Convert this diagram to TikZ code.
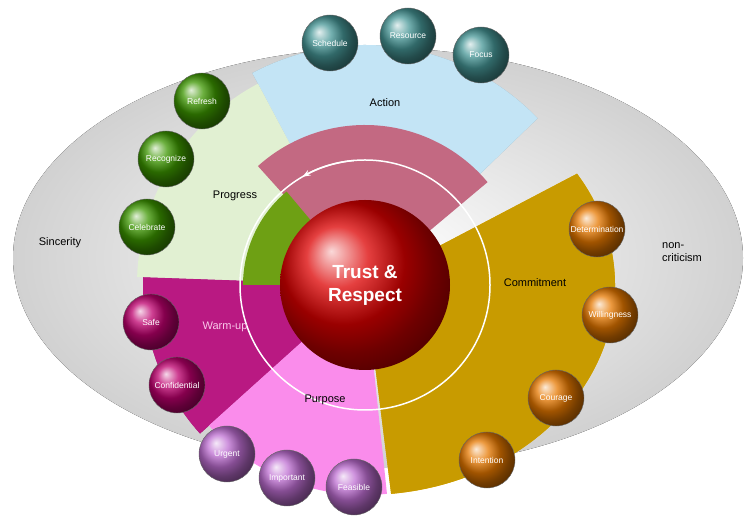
\documentclass[tikz,border=0pt]{standalone}
\usepackage{fontspec}
\setmainfont{Liberation Sans}
\usetikzlibrary{arrows.meta}
\definecolor{cteal}{RGB}{70,150,150}
\definecolor{cgreen}{RGB}{60,150,0}
\definecolor{corange}{RGB}{230,120,0}
\definecolor{cmag}{RGB}{190,0,110}
\definecolor{clil}{RGB}{190,110,210}
\definecolor{cred}{RGB}{220,0,0}
\begin{document}
\begin{tikzpicture}[x=1pt,y=1pt,
 ball/.style={circle,minimum size=56pt,inner sep=0pt,shading=ball,ball color=#1,draw=black!60,font=\fontsize{8.5}{10}\selectfont,text=white},
 lab/.style={font=\fontsize{11}{13}\selectfont,text=black}]
\useasboundingbox (0,0) rectangle (744,518);
\coordinate (C) at (365,233);
\newcommand{\sect}[5][]{\fill[#1] ([shift={(#3:#5)}]C) arc (#3:#4:#5) -- (C) -- cycle;}
\newcommand{\esect}[6][]{\fill[#1] ([shift={(#3:#5 and #6)}]C) arc (#3:#4:#5 and #6) -- (C) -- cycle;}
% background ellipse
\fill[inner color=white,outer color=black!18] (378,260) ellipse (365 and 210);
% rims
\begin{scope}[shift={(8,-8)}]\sect[fill={rgb,255:red,150;green,175;blue,185}]{C}{44}{118}{240}\end{scope}
\begin{scope}[shift={(14,6)}]\esect[fill={rgb,255:red,225;green,170;blue,0}]{C}{-84}{32}{250}{210}\end{scope}
\begin{scope}[shift={(-6,8)}]\sect[fill={rgb,255:red,150;green,20;blue,110}]{C}{178}{222}{222}\end{scope}
% sectors
\sect[fill={rgb,255:red,195;green,228;blue,245}]{C}{44}{118}{240}
\sect[fill={rgb,255:red,225;green,240;blue,210}]{C}{118}{178}{228}
\sect[fill={rgb,255:red,185;green,25;blue,130}]{C}{178}{222}{222}
\sect[fill={rgb,255:red,250;green,140;blue,235}]{C}{222}{276}{210}
\esect[fill={rgb,255:red,200;green,155;blue,0}]{C}{-84}{32}{250}{210}
\sect[fill={rgb,255:red,195;green,105;blue,130}]{C}{40}{132}{160}
\sect[fill={rgb,255:red,110;green,160;blue,20}]{C}{130}{180}{122}
% ring
\draw[white,line width=1.5pt] (C) circle (125);
\draw[white,line width=1.5pt,-{Stealth[length=8pt]}] ([shift={(95:125)}]C) arc (95:120:125);
% center
\node[circle,minimum size=170pt,inner sep=0pt,shading=ball,ball color=cred,font=\bfseries\fontsize{19}{23}\selectfont,text=white,align=center] (core) at (C) {Trust \&\\Respect};
% labels
\node[lab] (act) at (385,415) {Action};
\node[lab] (prog) at (235,322) {Progress};
\node[lab] (com) at (535,235) {Commitment};
\node[lab,text={rgb,255:red,250;green,200;blue,235}] (warm) at (225,191) {Warm-up};
\node[lab] (pur) at (325,118) {Purpose};
\node[lab] (sin) at (60,275) {Sincerity};
\node[lab,align=left] (non) at (682,266) {non-\\criticism};
% balls
\node[ball=cteal] (b1) at (330,475) {Schedule};
\node[ball=cteal] (b2) at (408,482) {Resource};
\node[ball=cteal] (b3) at (481,463) {Focus};
\node[ball=cgreen] (b4) at (202,417) {Refresh};
\node[ball=cgreen] (b5) at (166,359) {Recognize};
\node[ball=cgreen] (b6) at (147,291) {Celebrate};
\node[ball=corange] (b7) at (597,289) {Determination};
\node[ball=corange] (b8) at (610,203) {Willingness};
\node[ball=corange] (b9) at (556,120) {Courage};
\node[ball=corange] (b10) at (487,58) {Intention};
\node[ball=cmag] (b11) at (151,196) {Safe};
\node[ball=cmag] (b12) at (177,133) {Confidential};
\node[ball=clil] (b13) at (227,64) {Urgent};
\node[ball=clil] (b14) at (287,40) {Important};
\node[ball=clil] (b15) at (354,31) {Feasible};
\end{tikzpicture}
\end{document}
